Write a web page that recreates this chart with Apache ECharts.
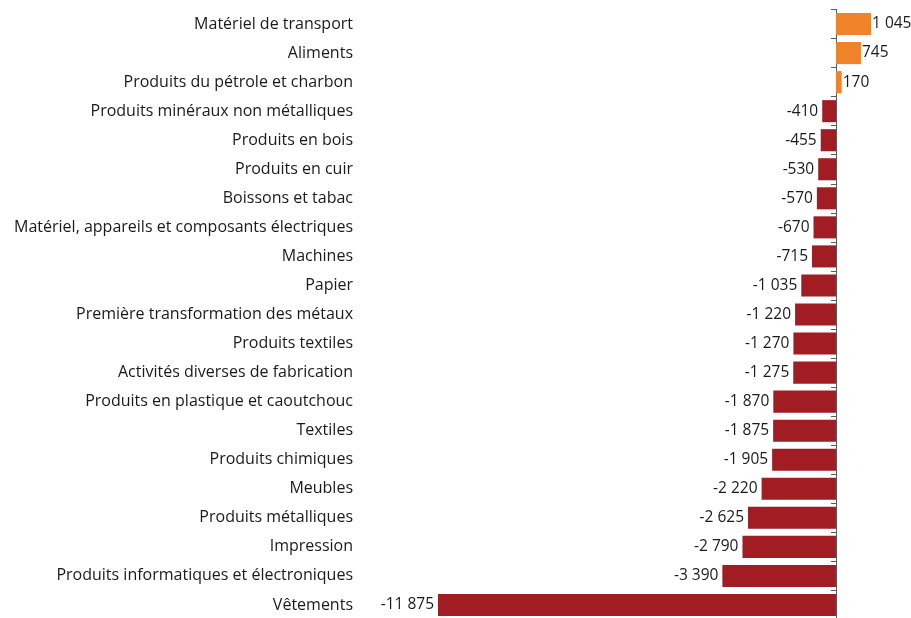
<!DOCTYPE html>
<html><head><meta charset="utf-8">
<script src="https://cdn.jsdelivr.net/npm/echarts@6/dist/echarts.min.js"></script>
<style>html,body{margin:0;padding:0;background:#fff}#c{width:911px;height:618px}</style>
</head><body><div id="c"></div>
<script>
const categories = ["Matériel de transport","Aliments","Produits du pétrole et charbon","Produits minéraux non métalliques","Produits en bois","Produits en cuir","Boissons et tabac","Matériel, appareils et composants électriques","Machines","Papier","Première transformation des métaux","Produits textiles","Activités diverses de fabrication","Produits en plastique et caoutchouc","Textiles","Produits chimiques","Meubles","Produits métalliques","Impression","Produits informatiques et électroniques","Vêtements"];
const values = [1045,745,170,-410,-455,-530,-570,-670,-715,-1035,-1220,-1270,-1275,-1870,-1875,-1905,-2220,-2625,-2790,-3390,-11875];
const posColor = '#F0822A', negColor = '#A21D23';
const fmt = v => { const s = Math.abs(v).toString().replace(/\B(?=(\d{3})+(?!\d))/g, ' '); return (v<0?'-':'') + s; };
const FONT = 'Open Sans';
const chart = echarts.init(document.getElementById('c'), null, {renderer:'canvas'});
chart.setOption({
  animation:false,
  grid:{left:438, right:8, top:9.5, height:610, containLabel:false, outerBoundsMode:'none'},
  xAxis:{type:'value', min:-11875, max:2000, show:false},
  yAxis:[
    {type:'category', data:categories, inverse:true, position:'right',
      axisLine:{onZero:true, lineStyle:{color:'#595959', width:1}},
      axisTick:{show:true, length:5, inside:true, lineStyle:{color:'#595959'}},
      axisLabel:{show:false},
      splitLine:{show:false}},
    {type:'category', data:categories, inverse:true, position:'left', offset:0,
      axisLine:{show:false, onZero:false}, axisTick:{show:false},
      axisLabel:{margin:85, fontFamily:FONT, fontSize:16, color:'#1a1a1a', padding:[3,0,0,0]},
      splitLine:{show:false}}
  ],
  series:[{type:'bar', barCategoryGap:'24%', yAxisIndex:0,
    data: values.map(v => ({value:v, itemStyle:{color: v>=0?posColor:negColor},
      label:{show:true, position: v>=0?'right':'left', distance: v>=0?1:4}})),
    label:{fontFamily:FONT, fontSize:15.5, color:'#1a1a1a', padding:[3,0,0,0], formatter: p => fmt(p.value)}
  }]
});
</script></body></html>
